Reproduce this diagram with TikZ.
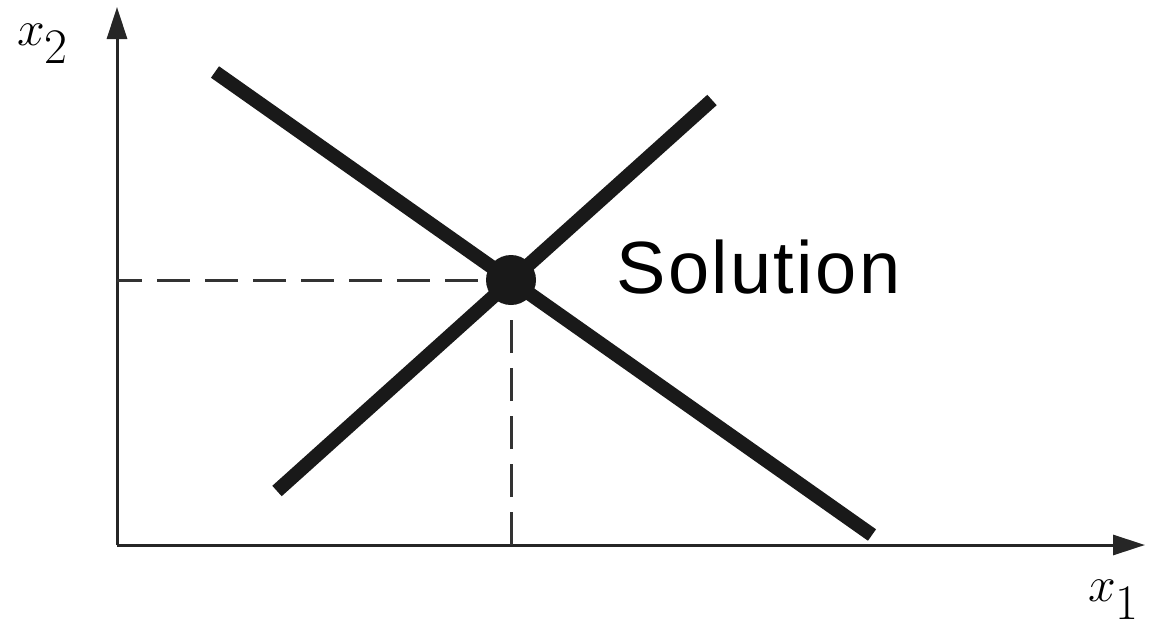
\documentclass[tikz,border=0pt]{standalone}
\usepackage{amsmath}
\usepackage{fontspec}
\newfontfamily\labelsans[LetterSpace=3.2]{Liberation Sans}
\usepackage{tikz}
\usetikzlibrary{arrows.meta,positioning,calc}

\begin{document}
\begin{tikzpicture}[
  x=0.5pt,y=-0.5pt,
  axis/.style={line width=1.5pt,draw=black!85,-{Triangle[length=16pt,width=10pt]}},
  constr/.style={line width=7pt,draw=black!90},
  guide/.style={line width=1.5pt,draw=black!80,dash pattern=on 16.5pt off 7.5pt},
  dot/.style={circle,fill=black!90,minimum size=25pt,inner sep=0pt},
  lbl/.style={inner sep=0pt,font=\fontsize{33}{36}\selectfont}]
  \useasboundingbox (0,0) rectangle (1152,632);
  % axes
  \coordinate (origin) at (117,545);
  \coordinate (xtip) at (1145,545);
  \coordinate (ytip) at (117,7);
  \draw[axis] (origin) -- (xtip);
  \draw[axis] (origin) -- (ytip);
  \node[lbl] (xlab) at (1114,600) {$x_{\raisebox{-5.5pt}{$\scriptstyle 1$}}$};
  \node[lbl] (ylab) at (43,44) {$x_{\raisebox{-5.5pt}{$\scriptstyle 2$}}$};
  % the two constraint lines
  \coordinate (aStart) at (215,72);
  \coordinate (aEnd) at (872,535);
  \coordinate (bStart) at (277,491);
  \coordinate (bEnd) at (712,100);
  \draw[constr] (aStart) -- (aEnd);
  \draw[constr] (bStart) -- (bEnd);
  % intersection
  \node[dot] (sol) at (511,280) {};
  \coordinate (solx) at (origin -| sol);
  \coordinate (soly) at (origin |- sol);
  \draw[guide,dash phase=4pt] (soly) -- (sol.west);
  \draw[guide] (solx) -- (sol.south);
  \node[inner sep=0pt,anchor=base west,font=\labelsans\fontsize{37}{40}\selectfont]
       (soltext) at (616,293) {Solution};
\end{tikzpicture}
\end{document}
